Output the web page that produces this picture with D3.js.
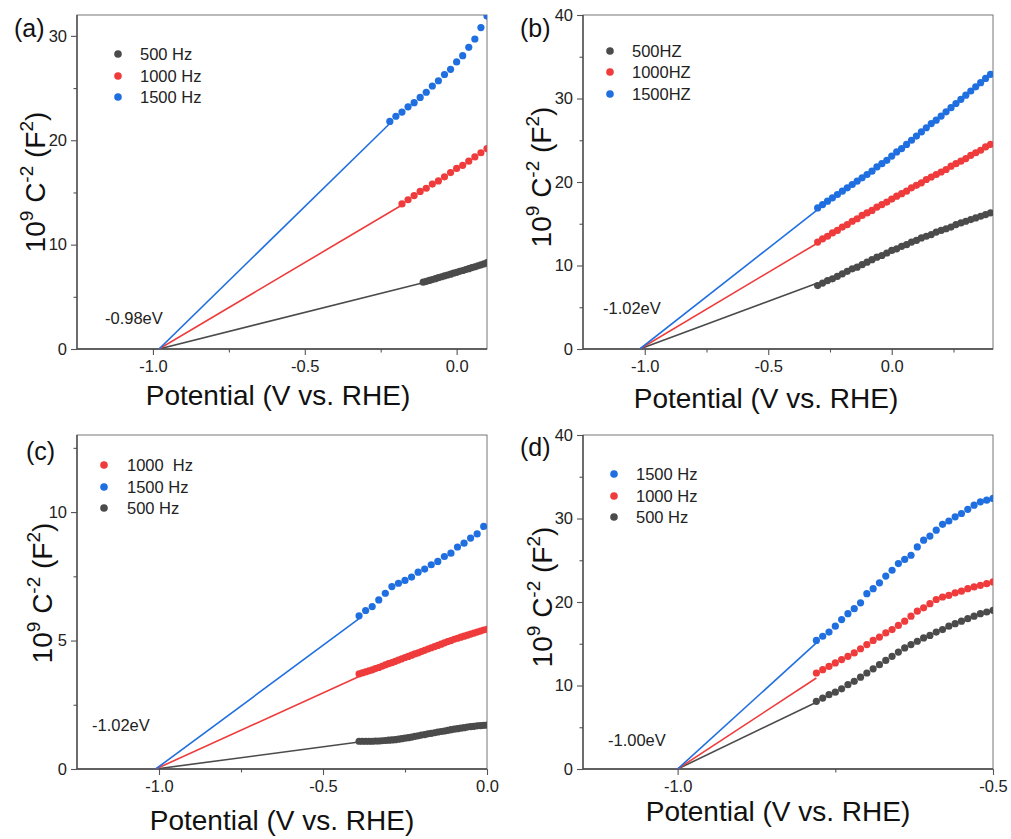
<!DOCTYPE html>
<html>
<head>
<meta charset="utf-8">
<script src="https://cdn.jsdelivr.net/npm/d3@7"></script>
<style>
  body { margin: 0; background: #fff; }
  svg text { font-family: Arial, "Liberation Sans", sans-serif; white-space: pre; }
</style>
</head>
<body>
<svg id="screen"></svg>
<script>
//
// Mott-Schottky plots, four panels (a)-(d)
// 1/C^2 against potential at 500 / 1000 / 1500 Hz, with the linear fits
// running down to the flat band potential
//

// ---------------- data ----------------

// panel (a)
const potA_500  = [-0.11,-0.10,-0.09,-0.08,-0.07,-0.06,-0.05,-0.04,-0.03,-0.02,-0.01,0.00,0.01,0.02,0.03,0.04,0.05,0.06,0.07,0.08,0.09,0.10]
const capA_500  = [6.40,6.48,6.57,6.65,6.74,6.83,6.92,7.00,7.09,7.17,7.26,7.35,7.44,7.52,7.61,7.70,7.79,7.88,7.97,8.06,8.15,8.28]
const potA_1000 = [-0.18,-0.16,-0.14,-0.12,-0.10,-0.08,-0.06,-0.04,-0.02,0.00,0.02,0.04,0.06,0.08,0.10]
const capA_1000 = [13.9,14.3,14.7,15.1,15.4,15.8,16.1,16.5,16.9,17.3,17.6,18.0,18.4,18.8,19.2]
const potA_1500 = [-0.22,-0.20,-0.18,-0.16,-0.14,-0.12,-0.10,-0.08,-0.06,-0.04,-0.02,0.00,0.02,0.04,0.06,0.08,0.10]
const capA_1500 = [21.8,22.3,22.7,23.2,23.6,24.1,24.6,25.2,25.7,26.3,26.8,27.5,28.1,28.9,29.7,30.8,31.9]
const fitA_500  = [[-0.98,0],[-0.11,6.35]]
const fitA_1000 = [[-0.98,0],[-0.18,13.8]]
const fitA_1500 = [[-0.98,0],[-0.22,21.6]]

// panel (b)
const potB = [-0.30,-0.28,-0.26,-0.24,-0.22,-0.20,-0.18,-0.16,-0.14,-0.12,-0.10,-0.08,-0.06,-0.04,-0.02,0.00,
              0.02,0.04,0.06,0.08,0.10,0.12,0.14,0.16,0.18,0.20,0.22,0.24,0.26,0.28,0.30,0.32,0.34,0.36,0.38,0.40]
const capB_500  = [7.6,7.9,8.2,8.4,8.7,9.0,9.3,9.6,9.8,10.1,10.4,10.7,11.0,11.2,11.5,11.8,
                   12.0,12.3,12.5,12.8,13.0,13.3,13.5,13.7,14.0,14.2,14.4,14.6,14.9,15.1,15.3,15.5,15.7,15.9,16.1,16.3]
const capB_1000 = [12.8,13.2,13.5,13.9,14.2,14.6,14.9,15.3,15.6,16.0,16.3,16.6,17.0,17.3,17.6,17.95,
                   18.3,18.6,18.9,19.3,19.6,19.9,20.3,20.6,20.9,21.2,21.5,21.9,22.2,22.5,22.8,23.2,23.5,23.8,24.2,24.5]
const capB_1500 = [16.9,17.3,17.7,18.1,18.5,18.9,19.3,19.7,20.1,20.5,20.9,21.3,21.8,22.2,22.6,23.1,
                   23.6,24.0,24.5,25.0,25.5,26.0,26.5,27.0,27.4,27.9,28.4,28.9,29.4,29.9,30.4,30.9,31.4,31.9,32.4,32.9]
const fitB_500  = [[-1.02,0],[-0.30,7.9]]
const fitB_1000 = [[-1.02,0],[-0.30,12.7]]
const fitB_1500 = [[-1.02,0],[-0.30,16.7]]

// panel (c)
const potC = [-0.39,-0.38,-0.37,-0.36,-0.35,-0.34,-0.33,-0.32,-0.31,-0.30,-0.29,-0.28,-0.27,-0.26,-0.25,-0.24,-0.23,-0.22,-0.21,-0.20,
              -0.19,-0.18,-0.17,-0.16,-0.15,-0.14,-0.13,-0.12,-0.11,-0.10,-0.09,-0.08,-0.07,-0.06,-0.05,-0.04,-0.03,-0.02,-0.01,0.00]
const capC_500  = [1.08,1.08,1.08,1.08,1.08,1.09,1.09,1.10,1.11,1.12,1.13,1.14,1.16,1.18,1.20,1.22,1.24,1.27,1.29,1.32,
                   1.34,1.37,1.39,1.41,1.44,1.46,1.48,1.50,1.53,1.55,1.57,1.59,1.61,1.63,1.65,1.66,1.68,1.69,1.70,1.71]
const capC_1000 = [3.70,3.74,3.78,3.82,3.86,3.91,3.95,4.00,4.05,4.10,4.14,4.19,4.24,4.29,4.34,4.38,4.43,4.48,4.52,4.57,
                   4.62,4.67,4.72,4.76,4.81,4.86,4.91,4.96,5.00,5.05,5.09,5.13,5.17,5.21,5.25,5.29,5.33,5.37,5.41,5.44]
const potC_1500 = [-0.39,-0.37,-0.35,-0.33,-0.31,-0.29,-0.27,-0.25,-0.23,-0.21,-0.19,-0.17,-0.15,-0.13,-0.11,-0.09,-0.07,-0.05,-0.03,-0.01]
const capC_1500 = [5.96,6.17,6.32,6.58,6.84,7.10,7.23,7.34,7.47,7.66,7.78,7.95,8.08,8.27,8.40,8.64,8.79,8.99,9.15,9.44]
const fitC_500  = [[-1.01,0],[-0.39,1.05]]
const fitC_1000 = [[-1.01,0],[-0.39,3.6]]
const fitC_1500 = [[-1.01,0],[-0.39,5.85]]

// panel (d)
const potD = [-0.78,-0.77,-0.76,-0.75,-0.74,-0.73,-0.72,-0.71,-0.70,-0.69,-0.68,-0.67,-0.66,-0.65,-0.64,
              -0.63,-0.62,-0.61,-0.60,-0.59,-0.58,-0.57,-0.56,-0.55,-0.54,-0.53,-0.52,-0.51,-0.50]
const capD_500  = [8.1,8.5,8.9,9.2,9.6,10.1,10.5,11.0,11.5,12.0,12.5,13.0,13.5,14.0,14.5,
                   14.9,15.3,15.7,16.0,16.4,16.7,17.1,17.4,17.7,18.0,18.3,18.6,18.8,19.0]
const capD_1000 = [11.5,11.9,12.3,12.7,13.1,13.5,13.9,14.4,14.9,15.4,15.8,16.3,16.7,17.2,17.7,
                   18.3,18.9,19.3,19.8,20.3,20.6,20.8,21.1,21.3,21.6,21.8,22.0,22.2,22.4]
const capD_1500 = [15.4,15.9,16.4,17.1,17.9,18.6,19.2,19.9,21.0,21.6,22.3,23.1,23.8,24.6,25.1,
                   25.6,26.6,27.4,27.9,28.6,29.3,29.7,30.2,30.6,31.1,31.6,32.0,32.2,32.4]
const fitD_500  = [[-1.0,0],[-0.78,8.0]]
const fitD_1000 = [[-1.0,0],[-0.78,10.9]]
const fitD_1500 = [[-1.0,0],[-0.78,15.1]]

// ticks
const xTicks = [-1.0,-0.5,0.0]
const xMinorAC = [-0.75,-0.25]
const xMinorB = [-0.75,-0.25,0.25]
const xTicksD = [-1.0,-0.5]
const xMinorD = [-0.75]
const yTicksA = [0,10,20,30]
const yMinorA = [5,15,25]
const yTicksBD = [0,10,20,30,40]
const yMinorBD = [5,15,25,35]
const yTicksC = [0,5,10]
const yMinorC = [2.5,7.5,12.5]

// legends and labels
const legendA = ['500 Hz','1000 Hz','1500 Hz']
const legendB = ['500HZ','1000HZ','1500HZ']
const legendC = ['1000  Hz','1500 Hz','500 Hz']
const legendD = ['1500 Hz','1000 Hz','500 Hz']
const efbLabels = ['-0.98eV','-1.02eV','-1.02eV','-1.00eV']

const gray = '#4b4b4b', red = '#ef3b3b', blue = '#1f6fe0'

// ---------------- panels ----------------

let panels = [
  {id:'(a)', left:77, top:15, right:487, bottom:349, xDomain:[-1.25,0.1], yDomain:[0,32],
   xTicks:xTicks, xMinor:xMinorAC, yTicks:yTicksA, yMinor:yMinorA,
   series:[{pot:potA_500, cap:capA_500, fit:fitA_500, color:gray},
           {pot:potA_1000, cap:capA_1000, fit:fitA_1000, color:red},
           {pot:potA_1500, cap:capA_1500, fit:fitA_1500, color:blue}],
   legend:{names:legendA, colors:[gray,red,blue], x:118, ys:[54,76,97], tx:140},
   label:{x:14, y:37}, efb:{text:efbLabels[0], x:105, y:318},
   xTitle:{x:278, y:405}, yTitle:{x:45, y:182}},
  {id:'(b)', left:583, top:15, right:993, bottom:349, xDomain:[-1.25,0.41], yDomain:[0,40],
   xTicks:xTicks, xMinor:xMinorB, yTicks:yTicksBD, yMinor:yMinorBD,
   series:[{pot:potB, cap:capB_500, fit:fitB_500, color:gray},
           {pot:potB, cap:capB_1000, fit:fitB_1000, color:red},
           {pot:potB, cap:capB_1500, fit:fitB_1500, color:blue}],
   legend:{names:legendB, colors:[gray,red,blue], x:610, ys:[51,72,94], tx:632},
   label:{x:520, y:37}, efb:{text:efbLabels[1], x:603, y:308},
   xTitle:{x:766, y:408}, yTitle:{x:551, y:177}},
  {id:'(c)', left:77, top:435, right:487, bottom:769, xDomain:[-1.25,0], yDomain:[0,13],
   xTicks:xTicks, xMinor:xMinorAC, yTicks:yTicksC, yMinor:yMinorC,
   series:[{pot:potC, cap:capC_500, fit:fitC_500, color:gray},
           {pot:potC, cap:capC_1000, fit:fitC_1000, color:red},
           {pot:potC_1500, cap:capC_1500, fit:fitC_1500, color:blue}],
   legend:{names:legendC, colors:[red,blue,gray], x:104, ys:[465,487,508], tx:127},
   label:{x:26, y:460}, efb:{text:efbLabels[2], x:92, y:725},
   xTitle:{x:282, y:830}, yTitle:{x:52, y:593}},
  {id:'(d)', left:583, top:435, right:993, bottom:769, xDomain:[-1.15,-0.5], yDomain:[0,40],
   xTicks:xTicksD, xMinor:xMinorD, yTicks:yTicksBD, yMinor:yMinorBD,
   series:[{pot:potD, cap:capD_500, fit:fitD_500, color:gray},
           {pot:potD, cap:capD_1000, fit:fitD_1000, color:red},
           {pot:potD, cap:capD_1500, fit:fitD_1500, color:blue}],
   legend:{names:legendD, colors:[blue,red,gray], x:614, ys:[474,496,517], tx:636},
   label:{x:520, y:456}, efb:{text:efbLabels[3], x:608, y:740},
   xTitle:{x:778, y:821}, yTitle:{x:552, y:597}}
]

let svg = d3.select('#screen').attr('width', 1011).attr('height', 839)
let defs = svg.append('defs')

panels.forEach(function(p, i){
  let x = d3.scaleLinear().domain(p.xDomain).range([p.left, p.right])
  let y = d3.scaleLinear().domain(p.yDomain).range([p.bottom, p.top])
  let g = svg.append('g')

  // clip so markers at the edge get cut like in the original
  defs.append('clipPath').attr('id', 'clip' + i)
      .append('rect')
      .attr('x', p.left).attr('y', p.top)
      .attr('width', p.right - p.left).attr('height', p.bottom - p.top)

  // part 1) ticks, major and minor, pointing out
  g.append('g').attr('transform', 'translate(0,' + p.bottom + ')')
   .call(d3.axisBottom(x).tickValues(p.xTicks).tickSize(6).tickPadding(5).tickFormat(d => d.toFixed(1)))
  g.append('g').attr('transform', 'translate(0,' + p.bottom + ')')
   .call(d3.axisBottom(x).tickValues(p.xMinor).tickSize(3.5).tickFormat(''))
  g.append('g').attr('transform', 'translate(' + p.left + ',0)')
   .call(d3.axisLeft(y).tickValues(p.yTicks).tickSize(6).tickPadding(4).tickFormat(d => String(d)))
  g.append('g').attr('transform', 'translate(' + p.left + ',0)')
   .call(d3.axisLeft(y).tickValues(p.yMinor).tickSize(3.5).tickFormat(''))

  g.selectAll('.domain').remove()
  g.selectAll('.tick line').attr('stroke', '#555').attr('stroke-width', 1.1)
  g.selectAll('.tick text')
   .attr('font-size', 16.5)
   .attr('font-family', 'Arial, "Liberation Sans", sans-serif')
   .attr('fill', '#222')

  // frame
  g.append('rect')
   .attr('x', p.left).attr('y', p.top)
   .attr('width', p.right - p.left).attr('height', p.bottom - p.top)
   .attr('fill', 'none').attr('stroke', '#777').attr('stroke-width', 1)
  g.append('path')
   .attr('d', 'M' + p.left + ',' + p.top + 'V' + p.bottom + 'H' + p.right)
   .attr('fill', 'none').attr('stroke', '#444').attr('stroke-width', 1.3)

  // part 2) fit lines and the measured points
  let plot = g.append('g').attr('clip-path', 'url(#clip' + i + ')')
  let line = d3.line().x(d => x(d[0])).y(d => y(d[1]))

  p.series.forEach(function(s){
    plot.append('path')
        .datum(s.fit)
        .attr('d', line)
        .attr('fill', 'none')
        .attr('stroke', s.color)
        .attr('stroke-width', 1.6)
  })
  p.series.forEach(function(s){
    plot.append('g').selectAll('circle')
        .data(s.pot.map((v, k) => [v, s.cap[k]]))
        .enter()
        .append('circle')
        .attr('cx', d => x(d[0]))
        .attr('cy', d => y(d[1]))
        .attr('r', 3.6)
        .attr('fill', s.color)
  })

  // part 3) legend
  p.legend.names.forEach(function(name, k){
    g.append('circle')
     .attr('cx', p.legend.x).attr('cy', p.legend.ys[k])
     .attr('r', 3.8).attr('fill', p.legend.colors[k])
    g.append('text')
     .attr('x', p.legend.tx).attr('y', p.legend.ys[k])
     .attr('dy', '0.35em')
     .attr('font-size', 16.5)
     .attr('fill', '#222')
     .text(name)
  })

  // part 4) labels
  g.append('text')
   .attr('x', p.label.x).attr('y', p.label.y)
   .attr('font-size', 25).attr('fill', '#111')
   .text(p.id)

  g.append('text')
   .attr('x', p.efb.x).attr('y', p.efb.y)
   .attr('dy', '0.35em')
   .attr('font-size', 16.5).attr('fill', '#222')
   .text(p.efb.text)

  g.append('text')
   .attr('x', p.xTitle.x).attr('y', p.xTitle.y)
   .attr('text-anchor', 'middle')
   .attr('font-size', 28).attr('fill', '#111')
   .text('Potential (V vs. RHE)')

  let yt = g.append('text')
   .attr('transform', 'translate(' + p.yTitle.x + ',' + p.yTitle.y + ') rotate(-90)')
   .attr('text-anchor', 'middle')
   .attr('font-size', 28).attr('fill', '#111')
  yt.append('tspan').text('10')
  yt.append('tspan').attr('font-size', 19).attr('dy', -12).text('9')
  yt.append('tspan').attr('dy', 12).text(' C')
  yt.append('tspan').attr('font-size', 19).attr('dy', -12).text('-2')
  yt.append('tspan').attr('dy', 12).text(' (F')
  yt.append('tspan').attr('font-size', 19).attr('dy', -12).text('2')
  yt.append('tspan').attr('dy', 12).text(')')
})
</script>
</body>
</html>
